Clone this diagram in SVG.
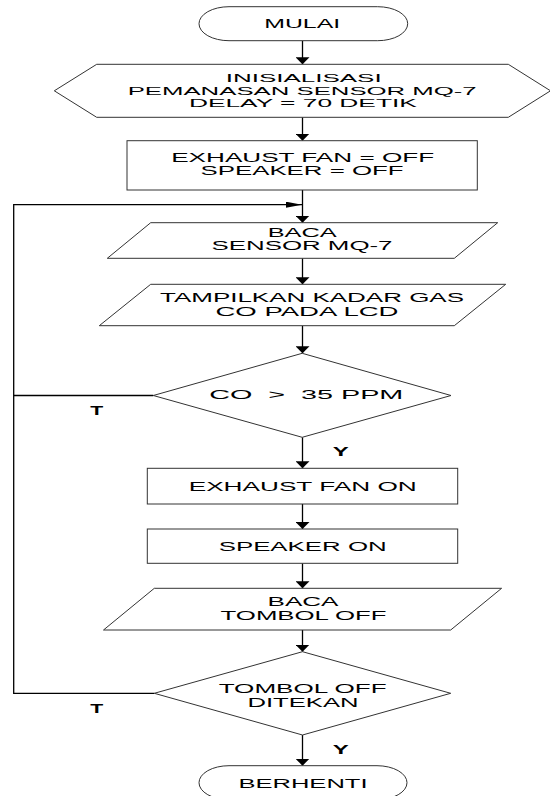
<svg xmlns="http://www.w3.org/2000/svg" width="550" height="796" viewBox="0 0 550 796">
<style>
.s{fill:#fff;stroke:#333;stroke-width:1}
.t{font-family:"Liberation Sans",Arial,sans-serif;font-size:12px;fill:#000;text-anchor:middle}
.h{font-size:11px}
.b{font-family:"Liberation Sans",Arial,sans-serif;font-size:13px;font-weight:bold;fill:#000;text-anchor:middle}
.c{fill:none;stroke:#000;stroke-width:1.3}
</style>
<defs>
<marker id="ad" markerUnits="userSpaceOnUse" viewBox="0 -7 7 14" markerWidth="7" markerHeight="14" refX="7" refY="0" orient="auto"><path d="M0,-7 L7,0 L0,7 z" fill="#000"/></marker>
<marker id="ar" markerUnits="userSpaceOnUse" viewBox="0 -3 16 6" markerWidth="16" markerHeight="6" refX="16" refY="0" orient="auto"><path d="M0,-3 L16,0 L0,3 z" fill="#000"/></marker>
</defs>
<rect width="550" height="796" fill="#fff"/>
<g id="connectors">
<line class="c" x1="302.5" y1="40.7" x2="302.5" y2="64.3" marker-end="url(#ad)"/>
<line class="c" x1="302.5" y1="117.3" x2="302.5" y2="140.7" marker-end="url(#ad)"/>
<line class="c" x1="302.5" y1="190" x2="302.5" y2="222.7" marker-end="url(#ad)"/>
<line class="c" x1="302.5" y1="258.3" x2="302.5" y2="284.3" marker-end="url(#ad)"/>
<line class="c" x1="302.5" y1="325.7" x2="302.5" y2="353.3" marker-end="url(#ad)"/>
<line class="c" x1="302.5" y1="437.3" x2="302.5" y2="468.3" marker-end="url(#ad)"/>
<line class="c" x1="302.5" y1="504" x2="302.5" y2="529" marker-end="url(#ad)"/>
<line class="c" x1="302.5" y1="563.3" x2="302.5" y2="588.3" marker-end="url(#ad)"/>
<line class="c" x1="302.5" y1="630" x2="302.5" y2="651.7" marker-end="url(#ad)"/>
<line class="c" x1="302.5" y1="735" x2="302.5" y2="765.7" marker-end="url(#ad)"/>
<line class="c" x1="153.3" y1="395.5" x2="13.7" y2="395.5"/>
<polyline class="c" points="154.3,693.3 13.7,693.3 13.7,204.7 302,204.7" marker-end="url(#ar)"/>
<text class="b" x="96.7" y="415" textLength="13" lengthAdjust="spacingAndGlyphs">T</text>
<text class="b" x="96.7" y="713" textLength="13" lengthAdjust="spacingAndGlyphs">T</text>
<text class="b" x="340.7" y="456" textLength="16" lengthAdjust="spacingAndGlyphs">Y</text>
<text class="b" x="340.7" y="754.3" textLength="16" lengthAdjust="spacingAndGlyphs">Y</text>
</g>
<g id="mulai">
<rect class="s" x="199" y="6.7" width="208.7" height="34" rx="30" ry="17"/>
<text class="t" x="302.2" y="28.3" textLength="76" lengthAdjust="spacingAndGlyphs">MULAI</text>
</g>
<g id="inisialisasi">
<polygon class="s" points="54.3,90.8 96.7,64.3 508.3,64.3 550.5,90.8 508.3,117.3 96.7,117.3"/>
<text class="t h" x="303.7" y="81.8" textLength="156" lengthAdjust="spacingAndGlyphs">INISIALISASI</text>
<text class="t h" x="302.2" y="94.5" textLength="349" lengthAdjust="spacingAndGlyphs">PEMANASAN SENSOR MQ-7</text>
<text class="t h" x="302.9" y="107.2" textLength="228" lengthAdjust="spacingAndGlyphs">DELAY = 70 DETIK</text>
</g>
<g id="set-off">
<rect class="s" x="127" y="140.7" width="350.3" height="49.3"/>
<text class="t" x="302.7" y="162.3" textLength="263" lengthAdjust="spacingAndGlyphs">EXHAUST FAN = OFF</text>
<text class="t" x="302" y="175.3" textLength="203" lengthAdjust="spacingAndGlyphs">SPEAKER = OFF</text>
</g>
<g id="baca-sensor">
<polygon class="s" points="150.7,222.7 497.7,222.7 454.3,258.3 107.3,258.3"/>
<text class="t" x="302.2" y="237" textLength="69" lengthAdjust="spacingAndGlyphs">BACA</text>
<text class="t" x="302" y="250.3" textLength="181" lengthAdjust="spacingAndGlyphs">SENSOR MQ-7</text>
</g>
<g id="tampilkan">
<polygon class="s" points="150.7,284.3 505.7,284.3 454.3,325.7 99.3,325.7"/>
<text class="t" x="312" y="302.3" textLength="304" lengthAdjust="spacingAndGlyphs">TAMPILKAN KADAR GAS</text>
<text class="t" x="307" y="315.7" textLength="183" lengthAdjust="spacingAndGlyphs">CO PADA LCD</text>
</g>
<g id="cek-co">
<polygon class="s" points="302.2,353.3 451,395.5 302.2,437.3 153.3,395.5"/>
<text class="t" x="306.3" y="399.3" textLength="194" lengthAdjust="spacingAndGlyphs" xml:space="preserve">CO  &gt;  35 PPM</text>
</g>
<g id="fan-on">
<rect class="s" x="147.3" y="468.3" width="310.4" height="35.7"/>
<text class="t" x="302.7" y="490.7" textLength="228" lengthAdjust="spacingAndGlyphs">EXHAUST FAN ON</text>
</g>
<g id="speaker-on">
<rect class="s" x="147.3" y="529" width="310.4" height="34.3"/>
<text class="t" x="302.7" y="550.7" textLength="168" lengthAdjust="spacingAndGlyphs">SPEAKER ON</text>
</g>
<g id="baca-tombol">
<polygon class="s" points="154.3,588.3 501.6,588.3 450.7,630 103.5,630"/>
<text class="t" x="303" y="606" textLength="71" lengthAdjust="spacingAndGlyphs">BACA</text>
<text class="t" x="303.6" y="619.5" textLength="166" lengthAdjust="spacingAndGlyphs">TOMBOL OFF</text>
</g>
<g id="cek-tombol">
<polygon class="s" points="302.5,651.7 450.7,693.3 302.5,735 154.3,693.3"/>
<text class="t" x="302.7" y="693.3" textLength="168" lengthAdjust="spacingAndGlyphs">TOMBOL OFF</text>
<text class="t" x="303" y="706.6" textLength="111" lengthAdjust="spacingAndGlyphs">DITEKAN</text>
</g>
<g id="berhenti">
<rect class="s" x="199" y="765.7" width="208" height="34" rx="30" ry="17"/>
<text class="t" x="303" y="787.7" textLength="129" lengthAdjust="spacingAndGlyphs">BERHENTI</text>
</g>
</svg>
